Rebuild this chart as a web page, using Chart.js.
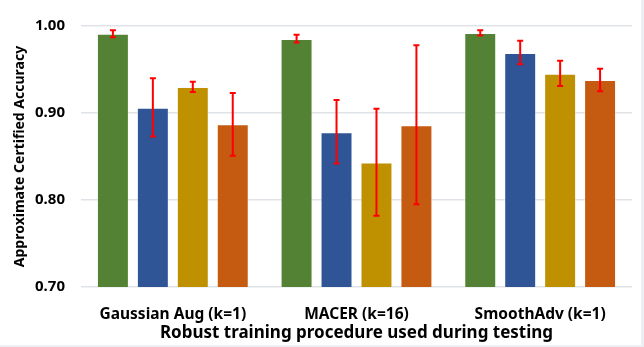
<!DOCTYPE html>
<html>
<head>
<meta charset="utf-8">
<script src="https://cdn.jsdelivr.net/npm/chart.js@4/dist/chart.umd.min.js"></script>
<style>
  html, body { margin: 0; padding: 0; background: #eceef1; }
  #wrap { position: relative; width: 641px; height: 345px; background: #fff; }
</style>
</head>
<body>
<div id="wrap"><canvas id="chart"></canvas></div>
<script>
const categories = ['Gaussian Aug (k=1)', 'MACER (k=16)', 'SmoothAdv (k=1)'];
const yTicks = [0.70, 0.80, 0.90, 1.00];

const series1 = [0.991, 0.985, 0.992];
const series2 = [0.906, 0.878, 0.969];
const series3 = [0.930, 0.843, 0.945];
const series4 = [0.887, 0.886, 0.938];

const series1Lo = [0.987, 0.981, 0.989];
const series1Hi = [0.995, 0.990, 0.995];
const series2Lo = [0.873, 0.842, 0.956];
const series2Hi = [0.940, 0.915, 0.983];
const series3Lo = [0.924, 0.782, 0.931];
const series3Hi = [0.936, 0.905, 0.960];
const series4Lo = [0.851, 0.795, 0.925];
const series4Hi = [0.923, 0.978, 0.951];

const FONT = '"Noto Sans", "Open Sans", sans-serif';

function makeSet(data, lo, hi, color) {
    return {
        data: data,
        errLo: lo,
        errHi: hi,
        backgroundColor: color,
        borderColor: 'rgba(255,255,255,0.35)',
        borderWidth: 1,
        categoryPercentage: 0.87,
        barPercentage: 0.8
    };
}

// red error bars on top of the bars
const errorBars = {
    id: 'errorBars',
    afterDatasetsDraw(chart) {
        const ctx = chart.ctx;
        const y = chart.scales.y;
        ctx.save();
        ctx.strokeStyle = '#ff0000';
        ctx.lineWidth = 2;
        chart.data.datasets.forEach(function (ds, i) {
            const meta = chart.getDatasetMeta(i);
            meta.data.forEach(function (bar, j) {
                const yLo = y.getPixelForValue(ds.errLo[j]);
                const yHi = y.getPixelForValue(ds.errHi[j]);
                ctx.beginPath();
                ctx.moveTo(bar.x, yLo);
                ctx.lineTo(bar.x, yHi);
                ctx.moveTo(bar.x - 3, yLo);
                ctx.lineTo(bar.x + 3, yLo);
                ctx.moveTo(bar.x - 3, yHi);
                ctx.lineTo(bar.x + 3, yHi);
                ctx.stroke();
            });
        });
        ctx.restore();
    }
};

new Chart(document.getElementById('chart'), {
    type: 'bar',
    data: {
        labels: categories,
        datasets: [
            makeSet(series1, series1Lo, series1Hi, '#548235'),
            makeSet(series2, series2Lo, series2Hi, '#2f5597'),
            makeSet(series3, series3Lo, series3Hi, '#bf9000'),
            makeSet(series4, series4Lo, series4Hi, '#c55a11')
        ]
    },
    options: {
        responsive: true,
        maintainAspectRatio: false,
        animation: false,
        layout: { padding: { top: 26, right: 9, left: 0, bottom: 0 } },
        plugins: {
            legend: { display: false },
            tooltip: { enabled: false }
        },
        scales: {
            x: {
                grid: { display: false },
                border: { display: false },
                ticks: {
                    color: '#000',
                    padding: 10,
                    font: { family: FONT, size: 15.5, weight: 'bold' }
                },
                title: {
                    display: true,
                    text: 'Robust training procedure used during testing',
                    color: '#000',
                    padding: { top: 0, bottom: 2 },
                    font: { family: FONT, size: 17, weight: 'bold' }
                },
                afterFit(scale) { scale.height = 58; }
            },
            y: {
                min: yTicks[0],
                max: yTicks[yTicks.length - 1],
                afterBuildTicks(scale) {
                    scale.ticks = yTicks.map(v => ({ value: v }));
                },
                grid: { color: '#dfe3e8', drawTicks: false, lineWidth: 1.5 },
                border: { display: false },
                ticks: {
                    color: '#000',
                    padding: 16,
                    font: { family: FONT, size: 15, weight: 'bold' },
                    callback: v => Number(v).toFixed(2)
                },
                title: {
                    display: true,
                    text: 'Approximate Certified Accuracy',
                    color: '#000',
                    padding: { top: 12, bottom: 0 },
                    font: { family: FONT, size: 14, weight: 'bold' }
                },
                afterFit(scale) { scale.width = 81; }
            }
        }
    },
    plugins: [errorBars]
});
</script>
</body>
</html>
